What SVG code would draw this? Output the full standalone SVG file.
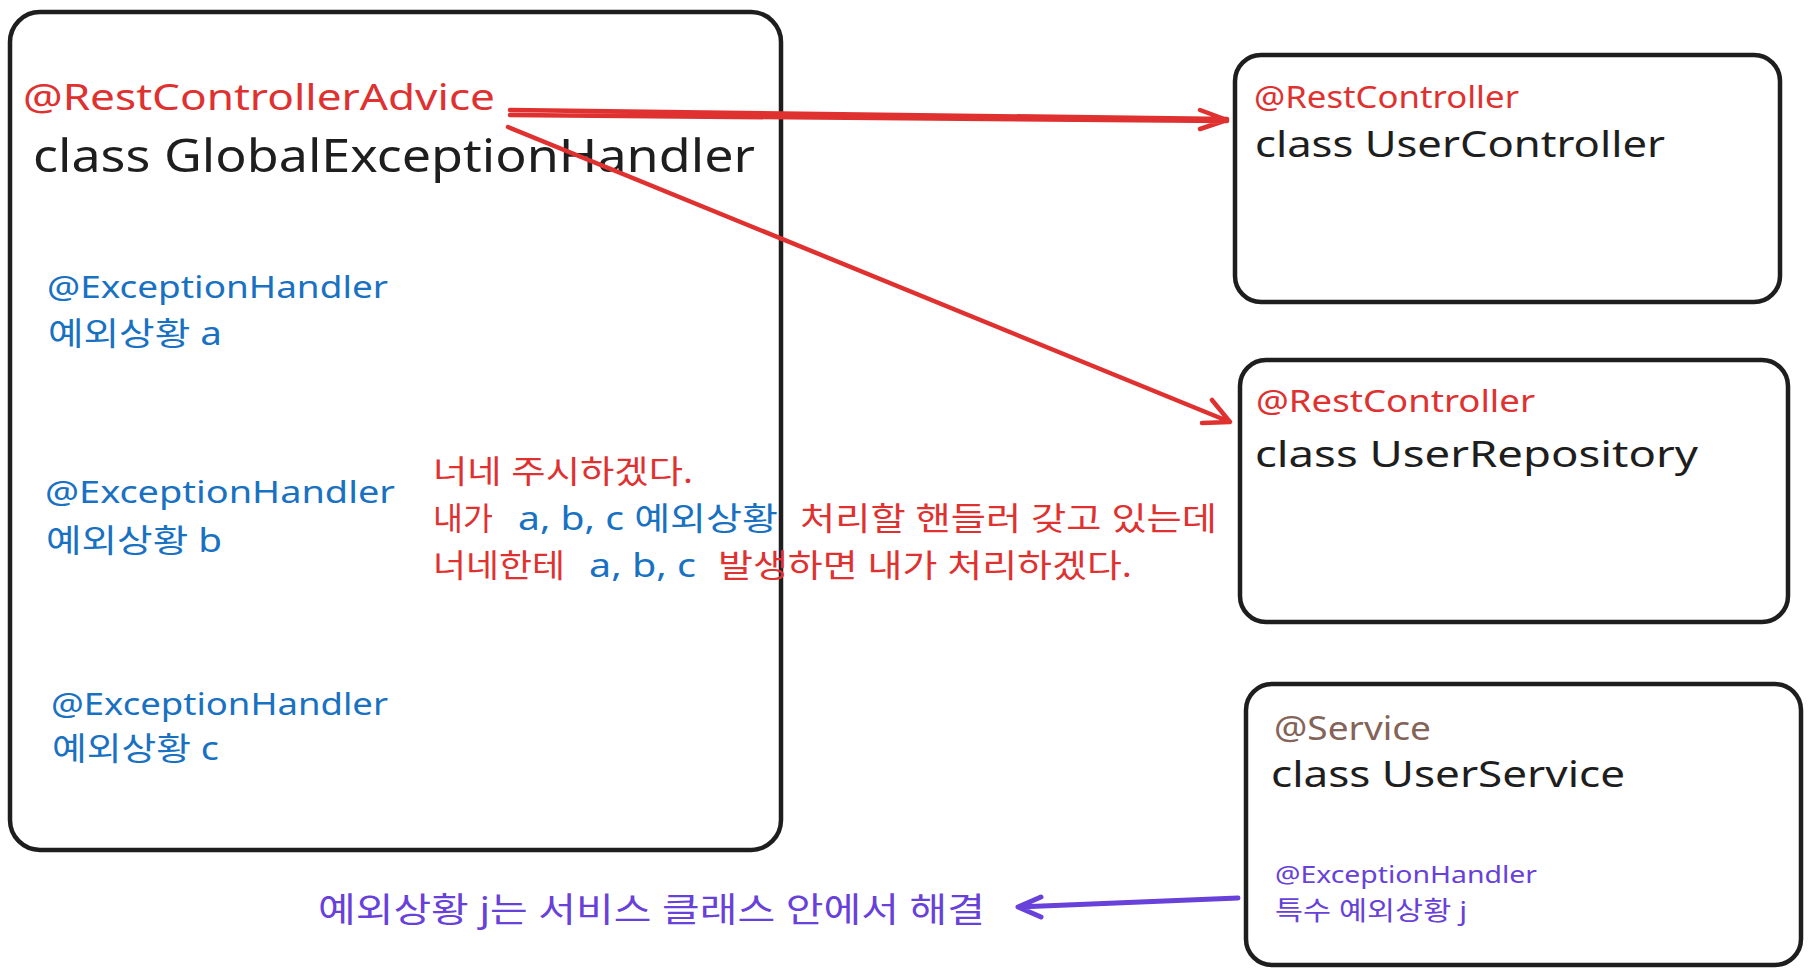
<svg xmlns="http://www.w3.org/2000/svg" width="1810" height="974" viewBox="0 0 1810 974">
<style>
text{font-family:"Noto Sans","Noto Sans CJK KR",sans-serif;}
.box{fill:#ffffff;stroke:#1e1e1e;stroke-width:4.5;}
.red{fill:#e03131;}
.blue{fill:#1971c2;}
.blk{fill:#1e1e1e;}
.brn{fill:#846358;}
.pur{fill:#6741d9;}
.ra{stroke:#e03131;stroke-width:4.5;fill:none;stroke-linecap:round;stroke-linejoin:round;}
.pa{stroke:#6741d9;stroke-width:5;fill:none;stroke-linecap:round;stroke-linejoin:round;}
</style>
<rect width="1810" height="974" fill="#ffffff"/>
<g id="global-handler">
<rect class="box" x="10" y="12" width="771" height="838" rx="30"/>
<text class="red" x="23" y="110" font-size="36" textLength="472" lengthAdjust="spacingAndGlyphs">@RestControllerAdvice</text>
<text class="blk" x="33" y="172" font-size="46" textLength="722" lengthAdjust="spacingAndGlyphs">class GlobalExceptionHandler</text>
<text class="blue" x="47" y="298" font-size="30" textLength="341" lengthAdjust="spacingAndGlyphs">@ExceptionHandler</text>
<text class="blue" x="48" y="345" font-size="32" textLength="174" lengthAdjust="spacingAndGlyphs">예외상황 a</text>
<text class="blue" x="45" y="503" font-size="30" textLength="350" lengthAdjust="spacingAndGlyphs">@ExceptionHandler</text>
<text class="blue" x="46" y="552" font-size="32" textLength="176" lengthAdjust="spacingAndGlyphs">예외상황 b</text>
<text class="blue" x="51" y="715" font-size="30" textLength="337" lengthAdjust="spacingAndGlyphs">@ExceptionHandler</text>
<text class="blue" x="52" y="760" font-size="32" textLength="167" lengthAdjust="spacingAndGlyphs">예외상황 c</text>
</g>
<g id="note">
<text class="red" x="433" y="483" font-size="32" textLength="260" lengthAdjust="spacingAndGlyphs">너네 주시하겠다.</text>
<text class="red" x="433" y="530" font-size="32" textLength="60" lengthAdjust="spacingAndGlyphs">내가</text>
<text class="blue" x="518" y="530" font-size="32" textLength="260" lengthAdjust="spacingAndGlyphs">a, b, c 예외상황</text>
<text class="red" x="800" y="530" font-size="32" textLength="417" lengthAdjust="spacingAndGlyphs">처리할 핸들러 갖고 있는데</text>
<text class="red" x="433" y="577" font-size="32" textLength="132" lengthAdjust="spacingAndGlyphs">너네한테</text>
<text class="blue" x="589" y="577" font-size="32" textLength="107" lengthAdjust="spacingAndGlyphs">a, b, c</text>
<text class="red" x="718" y="577" font-size="32" textLength="414" lengthAdjust="spacingAndGlyphs">발생하면 내가 처리하겠다.</text>
</g>
<g id="user-controller">
<rect class="box" x="1235" y="55" width="545" height="247" rx="26"/>
<text class="red" x="1254" y="108" font-size="30" textLength="265" lengthAdjust="spacingAndGlyphs">@RestController</text>
<text class="blk" x="1255" y="157" font-size="37" textLength="410" lengthAdjust="spacingAndGlyphs">class UserController</text>
</g>
<g id="user-repository">
<rect class="box" x="1240" y="360" width="548" height="262" rx="26"/>
<text class="red" x="1256" y="412" font-size="30" textLength="279" lengthAdjust="spacingAndGlyphs">@RestController</text>
<text class="blk" x="1255" y="467" font-size="37" textLength="443" lengthAdjust="spacingAndGlyphs">class UserRepository</text>
</g>
<g id="user-service">
<rect class="box" x="1246" y="684" width="555" height="281" rx="26"/>
<text class="brn" x="1274" y="740" font-size="32" textLength="157" lengthAdjust="spacingAndGlyphs">@Service</text>
<text class="blk" x="1271" y="787" font-size="37" textLength="354" lengthAdjust="spacingAndGlyphs">class UserService</text>
<text class="pur" x="1275" y="883" font-size="24" textLength="262" lengthAdjust="spacingAndGlyphs">@ExceptionHandler</text>
<text class="pur" x="1275" y="920" font-size="26" textLength="192" lengthAdjust="spacingAndGlyphs">특수 예외상황 j</text>
</g>
<g id="bottom-label">
<text class="pur" x="318" y="922" font-size="34" textLength="667" lengthAdjust="spacingAndGlyphs">예외상황 j는 서비스 클래스 안에서 해결</text>
</g>
<g id="connectors">
<path class="ra" d="M510 110 L1227 119 M510 115 L1227 121 M1200 110 L1227 120 L1200 129"/>
<path class="ra" d="M508 127 L1230 422 M1202 423 L1230 422 L1212 400"/>
<path class="pa" d="M1238 898 L1018 907 M1041 897 L1018 907 L1041 917"/>
</g>
</svg>
